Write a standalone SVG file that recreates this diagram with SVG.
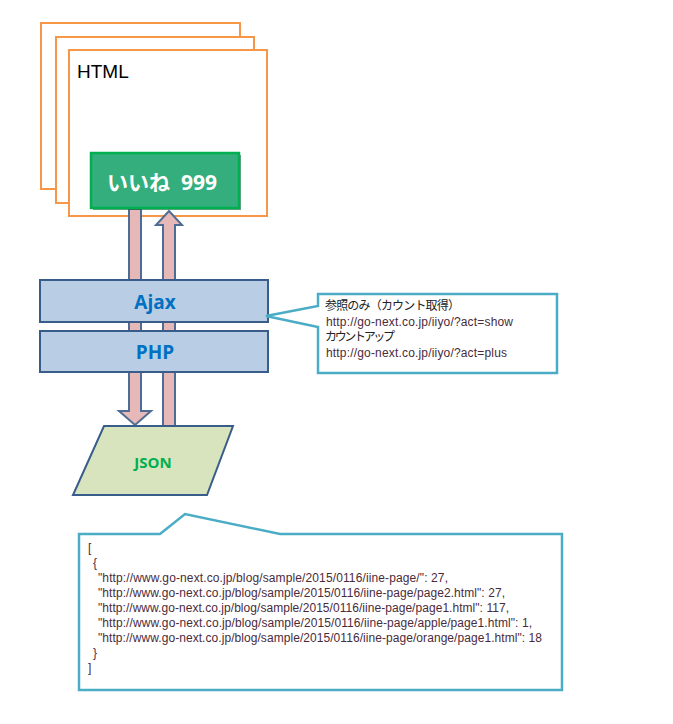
<svg xmlns="http://www.w3.org/2000/svg" width="673" height="724" viewBox="0 0 673 724">
<style>
.page{fill:#fff;stroke:#f79646;stroke-width:2}
.layer{fill:#b9cde5;stroke:#385d8a;stroke-width:2}
.arr{fill:#e6b9b8;stroke:#4f6d94;stroke-width:2}
.call{fill:#fff;stroke:#4bacc6;stroke-width:2.5}
.t{font-family:"Liberation Sans","Noto Sans CJK JP",sans-serif}
.s{font-size:12px;fill:#222}
.u{font-size:12px;fill:#4a2b3b}
.b{font-family:"Open Sans","Noto Sans CJK JP",sans-serif;font-weight:bold}
</style>
<g id="html">
<rect class="page" x="41" y="23" width="199" height="166"/>
<rect class="page" x="56" y="37" width="198" height="166"/>
<rect class="page" x="69" y="50" width="198" height="166"/>
<text class="t" x="77" y="78" font-size="19" fill="#000">HTML</text>
</g>
<g id="connectors">
<path class="arr" d="M129,209 H141 V411 H151 L135,425 L119,411 H129 Z"/>
<path class="arr" d="M163,426 H175 V225 H182 L169,211 L156,225 H163 Z"/>
</g>
<g id="button">
<rect x="93" y="155" width="148" height="55" fill="#1a5c3a" opacity="0.6"/>
<rect x="91" y="153" width="148" height="55" fill="#33ae7c" stroke="#00b050" stroke-width="2.5"/>
<text class="b" x="107" y="190" font-size="21" fill="#fff" xml:space="preserve">いいね  999</text>
</g>
<g id="ajax">
<rect class="layer" x="40" y="280" width="228" height="42"/>
<text class="b" x="155" y="309" font-size="19" fill="#0070c0" text-anchor="middle">Ajax</text>
</g>
<g id="php">
<rect class="layer" x="40" y="331" width="228" height="41"/>
<text class="b" x="155" y="359" font-size="19" fill="#0070c0" text-anchor="middle">PHP</text>
</g>
<g id="json">
<polygon points="104,426 233,426 207,495 73,495" fill="#d7e4bd" stroke="#385d8a" stroke-width="2"/>
<text class="b" x="153" y="468" font-size="15" fill="#00b050" text-anchor="middle">JSON</text>
</g>
<g id="callout-url">
<path class="call" d="M318,294 H557 V373 H318 V327 L266,316 L318,306 Z"/>
<text class="t s" x="325" y="310" textLength="135">参照のみ（カウント取得）</text>
<text class="t u" x="326" y="326" textLength="187">http://go-next.co.jp/iiyo/?act=show</text>
<text class="t s" x="325" y="341" textLength="70">カウントアップ</text>
<text class="t u" x="326" y="357" textLength="181">http://go-next.co.jp/iiyo/?act=plus</text>
</g>
<g id="callout-json">
<path class="call" d="M79,534 H160 L185,514 L280,534 H562 V690 H79 Z"/>
<g class="t u">
<text x="88" y="552">[</text>
<text x="93" y="567">{</text>
<text x="98" y="582" textLength="350">"http://www.go-next.co.jp/blog/sample/2015/0116/iine-page/": 27,</text>
<text x="98" y="597" textLength="407">"http://www.go-next.co.jp/blog/sample/2015/0116/iine-page/page2.html": 27,</text>
<text x="98" y="612" textLength="411">"http://www.go-next.co.jp/blog/sample/2015/0116/iine-page/page1.html": 117,</text>
<text x="98" y="627" textLength="434">"http://www.go-next.co.jp/blog/sample/2015/0116/iine-page/apple/page1.html": 1,</text>
<text x="98" y="642" textLength="444">"http://www.go-next.co.jp/blog/sample/2015/0116/iine-page/orange/page1.html": 18</text>
<text x="93" y="657">}</text>
<text x="88" y="672">]</text>
</g>
</g>
</svg>
